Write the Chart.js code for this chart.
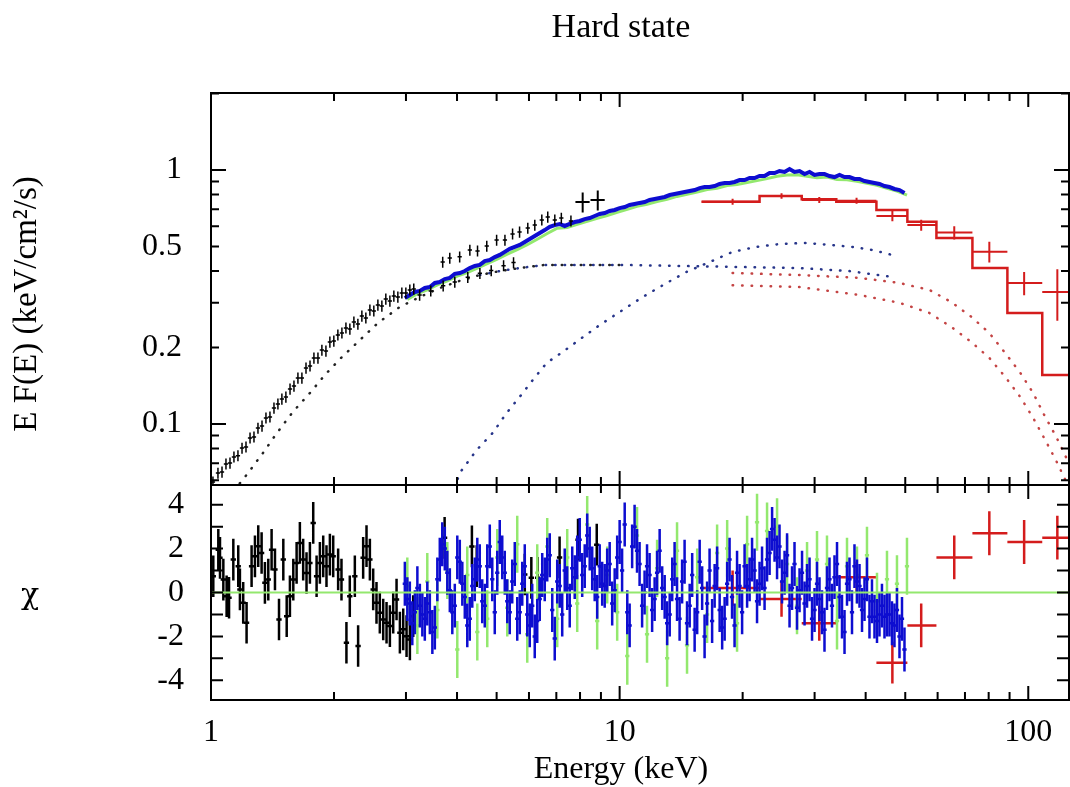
<!DOCTYPE html>
<html>
<head>
<meta charset="utf-8">
<script src="https://cdn.jsdelivr.net/npm/chart.js@4.4.1/dist/chart.umd.min.js"></script>
<style>
  html, body { margin: 0; padding: 0; background: #fff; }
  canvas { display: block; }
</style>
</head>
<body>
<canvas id="spec" width="1070" height="787"></canvas>
<script>
// labels
var chartTitle = 'Hard state';
var xTitle = 'Energy (keV)';
var yTitle = 'E F(E) (keV/cm\u00b2/s)';
var chiTitle = '\u03c7';

// axis ranges and ticks
var xMin = 1, xMax = 125.8;
var yMin = 0.0575, yMax = 2.01;
var chiMin = -4.9, chiMax = 4.9;
var xLabels = [1, 10, 100];
var xMajor = [1, 10, 100];
var xMinor = [2, 3, 4, 5, 6, 7, 8, 9, 20, 30, 40, 50, 60, 70, 80, 90];
var yLabels = [0.1, 0.2, 0.5, 1];
var yMajor = [0.1, 1];
var yMinor = [0.06, 0.07, 0.08, 0.09, 0.2, 0.3, 0.4, 0.5, 0.6, 0.7, 0.8, 0.9, 2];
var chiLabels = [-4, -2, 0, 2, 4];
var chiTicks = [-4, -3, -2, -1, 0, 1, 2, 3, 4];

// black data (low energy), spectrum
var blackE = [1.011,1.040,1.064,1.088,1.113,1.138,1.164,1.191,1.218,1.246,1.274,1.303,1.333,1.363,1.394,1.426,1.458,1.491,1.525,1.561,
  1.596,1.632,1.669,1.708,1.747,1.786,1.827,1.868,1.911,1.954,1.998,2.044,2.091,2.139,2.187,2.237,2.288,2.340,2.393,2.448,
  2.503,2.561,2.619,2.678,2.740,2.802,2.866,2.931,2.998,3.066,3.135,
  3.24,3.45,3.70,3.95,4.25,4.55,4.85,5.20,5.50,
  3.69,3.84,4.06,4.30,4.49,4.73,5.00,5.24,5.47,5.69,5.96,6.20,6.45,6.67,6.94,7.20,7.60];
var blackF = [0.0591,0.0641,0.0647,0.0696,0.0702,0.0742,0.0750,0.0804,0.0812,0.0881,0.0889,0.0964,0.0982,0.1056,0.1066,0.1156,0.1199,0.1254,0.1277,0.1373,
  0.1411,0.1517,0.1517,0.1661,0.1692,0.1819,0.1819,0.1955,0.1938,0.2103,0.2122,0.2241,0.2282,0.2388,0.2366,0.2521,0.2475,0.2662,0.2615,0.2811,
  0.2786,0.2941,0.2914,0.3105,0.3049,0.3191,0.3162,0.328,0.328,0.337,0.340,
  0.322,0.334,0.350,0.362,0.378,0.392,0.402,0.420,0.432,
  0.434,0.450,0.455,0.484,0.480,0.502,0.530,0.530,0.560,0.570,0.591,0.607,0.636,0.653,0.636,0.647,0.630];
var blackWideE = [8.12, 8.84];
var blackWideF = [0.748, 0.762];

// blue data, spectrum and residuals share the energy grid
var blueE = [2.981,3.066,3.154,3.244,3.336,3.432,3.530,3.630,3.734,3.841,
  3.950,4.063,4.179,4.298,4.421,4.547,4.677,4.811,4.948,5.089,
  5.235,5.384,5.538,5.696,5.859,6.026,6.198,6.375,6.557,6.745,
  6.937,7.135,7.339,7.549,7.764,7.986,8.214,8.448,8.689,8.937,
  9.193,9.455,9.725,10.00,10.29,10.58,10.88,11.19,11.51,11.84,
  12.18,12.53,12.89,13.26,13.63,14.02,14.42,14.84,15.26,15.70,
  16.14,16.60,17.08,17.57,18.07,18.58,19.11,19.66,20.22,20.80,
  21.39,22.00,22.63,23.28,23.94,24.62,25.33,26.05,26.79,27.56,
  28.35,29.16,29.99,30.84,31.72,32.63,33.56,34.52,35.51,36.52,
  37.56,38.64,39.74,40.87,42.04,43.24,44.48,45.75,47.05,48.40,
  49.78];
var blueF = [0.313,0.322,0.331,0.334,0.343,0.346,0.359,0.362,0.372,0.376,
  0.390,0.393,0.400,0.411,0.419,0.423,0.438,0.442,0.454,0.463,
  0.476,0.489,0.498,0.507,0.521,0.535,0.550,0.565,0.580,0.597,
  0.607,0.613,0.602,0.613,0.624,0.630,0.641,0.647,0.659,0.671,
  0.677,0.690,0.696,0.708,0.715,0.728,0.735,0.742,0.748,0.762,
  0.769,0.776,0.783,0.797,0.804,0.812,0.819,0.827,0.834,0.849,
  0.857,0.857,0.865,0.881,0.889,0.889,0.897,0.913,0.913,0.930,
  0.930,0.947,0.947,0.973,0.973,0.991,0.982,1.009,0.982,0.991,
  0.964,0.982,0.956,0.964,0.964,0.947,0.938,0.956,0.938,0.938,
  0.922,0.922,0.905,0.897,0.889,0.881,0.865,0.857,0.842,0.834,
  0.812];
var blueChi = [0.4,-0.5,-0.9,-0.6,-1.2,-0.9,-1.6,1.5,2.0,0.1,
  -0.6,1.4,-0.2,-1.2,0.6,1.2,-0.6,2.1,-0.9,2.3,
  0.9,-0.9,1.3,-0.9,1.2,-1.5,-2.0,-0.3,0.6,1.7,
  -2.1,0.3,1.0,-0.6,0.7,2.4,1.2,2.0,0.6,1.2,
  0.3,1.3,0.1,2.3,3.1,-1.5,3.0,1.3,0.0,0.8,
  -0.3,1.9,-0.2,-1.0,1.3,-1.2,1.4,-0.6,-1.7,1.4,
  -2.0,1.0,0.3,-0.8,-1.2,1.5,-1.5,0.3,1.2,0.6,
  1.0,0.4,0.2,1.8,2.4,2.1,0.9,-0.6,1.3,0.1,
  -0.5,0.6,-0.8,-0.3,-1.7,0.6,0.7,-0.2,-1.8,0.6,
  1.2,0.3,-0.3,-1.1,-1.1,-1.0,-1.1,-1.0,-1.5,-2.0,
  -2.6];
// interleaved blue residual bins
var blueE2 = [3.023,3.109,3.199,3.290,3.383,3.481,3.580,3.681,3.787,3.895,
  4.006,4.121,4.238,4.359,4.484,4.611,4.743,4.879,5.018,5.161,
  5.309,5.460,5.616,5.777,5.942,6.111,6.286,6.465,6.650,6.841,
  7.035,7.236,7.443,7.656,7.874,8.099,8.330,8.568,8.812,9.064,
  9.323,9.589,9.863,10.14,10.44,10.73,11.03,11.35,11.67,12.01,
  12.35,12.71,13.07,13.45,13.82,14.22,14.62,15.05,15.48,15.92,
  16.37,16.84,17.32,17.82,18.33,18.84,19.38,19.94,20.51,21.09,
  21.69,22.31,22.95,23.61,24.28,24.97,25.69,26.42,27.17,27.95,
  28.75,29.57,30.41,31.28,32.17,33.09,34.04,35.01,36.01,37.04,
  38.09,39.19,40.30,41.45,42.64,43.85,45.11,46.40,47.72,49.09];
var blueChi2 = [-0.3,-1.4,0.2,-1.0,-0.5,-1.8,0.6,2.2,0.9,-0.9,
  1.6,0.4,-1.5,0.3,1.5,-0.4,1.2,0.6,0.9,1.6,
  -0.4,0.5,-1.2,0.4,-1.0,-0.6,-1.3,0.8,1.5,-0.8,
  0.5,-1.0,0.2,1.1,1.6,0.8,2.6,1.1,-0.2,0.4,
  1.0,-0.5,1.6,1.0,-0.9,2.1,1.9,-0.6,1.2,-0.8,
  0.9,0.2,-1.4,0.6,-0.3,0.5,-1.4,0.8,-0.9,0.2,
  -0.5,-1.3,1.1,-1.6,0.4,-0.2,0.9,-0.9,0.3,1.5,
  -0.4,1.1,1.5,2.9,1.6,0.5,1.7,0.2,-0.7,0.9,
  0.3,-1.2,0.4,-0.9,0.2,-0.6,1.3,-1.1,0.4,-0.9,
  0.5,-0.8,0.6,-0.4,-1.3,-0.6,-1.0,-1.4,-0.8,-1.2];

// green data
var greenE = [3.023,3.199,3.383,3.580,3.787,4.006,4.238,4.484,4.743,5.018,
  5.309,5.616,5.942,6.286,6.650,7.035,7.443,7.874,8.330,8.812,
  9.323,9.863,10.44,11.03,11.67,12.35,13.07,13.82,14.62,15.48,
  16.37,17.32,18.33,19.38,20.51,21.69,22.95,24.28,25.69,27.17,
  28.75,30.41,32.17,34.04,36.01,38.09,40.30,42.64,45.11,47.72,
  50.49];
var greenF = [0.309,0.326,0.337,0.353,0.366,0.382,0.394,0.411,0.428,0.446,
  0.466,0.486,0.508,0.534,0.562,0.590,0.594,0.611,0.628,0.645,
  0.662,0.681,0.700,0.719,0.733,0.752,0.767,0.787,0.802,0.818,
  0.838,0.848,0.868,0.877,0.893,0.908,0.925,0.945,0.955,0.958,
  0.945,0.933,0.938,0.918,0.916,0.902,0.886,0.870,0.848,0.826,
  0.797];
var greenChi = [0.3,-1.5,0.5,-0.8,1.0,-2.6,0.8,-1.8,-1.2,1.6,
  -0.7,2.2,-1.9,0.9,2.1,-1.2,1.6,-0.5,3.1,-1.3,
  0.8,-0.9,-2.9,2.6,-1.9,1.1,-3.0,1.9,-2.4,0.7,
  -1.0,1.8,2.0,-1.4,2.2,3.2,2.8,3.0,1.3,-0.6,
  1.0,1.5,1.3,-1.3,1.2,0.8,1.7,-0.4,0.6,0.4,
  1.2];

// black residuals
var blackResE = [1.013,1.042,1.052,1.072,1.092,1.107,1.134,1.166,1.177,1.199,1.222,1.257,1.281,1.305,1.330,1.355,1.381,1.407,1.434,1.467,
  1.503,1.532,1.560,1.590,1.620,1.650,1.681,1.713,1.746,1.779,1.813,1.847,1.882,1.917,1.954,1.991,2.047,2.086,2.145,2.186,
  2.249,2.291,2.357,2.402,2.448,2.494,2.541,2.589,2.639,2.689,2.740,2.792,2.845,2.899,2.954,3.010,3.067,3.125,
  3.73,4.35,4.47,5.86,6.08,6.30,7.13,7.91,8.79];
var blackResChi = [0.74,1.95,1.58,0.59,-0.17,-0.24,1.50,1.20,0.14,-0.47,-1.38,1.20,1.65,2.11,1.80,0.44,0.59,1.95,1.05,-1.23,
  1.50,-1.08,-0.17,0.59,1.35,2.26,1.50,0.89,1.35,3.17,0.74,1.35,1.65,1.20,1.73,1.65,1.05,0.59,-2.29,-0.17,
  0.74,-2.44,1.58,2.11,1.50,0.14,-0.47,-0.92,-1.23,-1.38,-1.53,-0.92,-0.32,-1.83,-1.68,-1.99,-2.14,-1.08,
  2.49,2.10,1.20,0.82,0.67,0.67,1.60,2.41,2.18];

// red data (high energy bins)
var redBinLo = [15.87,22.0,27.9,33.9,42.5,50.6,59.6,73.0,88.9,108.2];
var redBinHi = [22.0,27.9,33.9,42.5,50.6,59.6,73.0,88.9,108.2,131.8];
var redE = [18.9,24.9,30.8,38.0,46.5,54.7,65.9,80.3,97.7,117.8];
var redF = [0.750,0.790,0.762,0.757,0.659,0.607,0.567,0.477,0.359,0.331];
var redFErr = [0.02,0.02,0.02,0.02,0.03,0.03,0.034,0.045,0.038,0.076];
var redModel = [0.750,0.790,0.767,0.750,0.696,0.626,0.540,0.411,0.2735,0.156];
var redChi = [0.2,-0.3,-1.4,0.7,-3.2,-1.5,1.6,2.7,2.3,2.5];
var redChiErr = [0.8,0.8,0.8,0.7,0.95,1.0,1.0,1.0,1.0,1.0];

// model components (dotted)
var compBlackE = [1.10,1.232,1.340,1.450,1.586,1.746,1.900,2.091,2.314,2.561,2.898,3.24,3.63,4.06,4.55,5.09,5.69,6.56,7.98,10.0];
var compBlackF = [0.051,0.0641,0.0769,0.0922,0.1115,0.1324,0.156,0.1835,0.214,0.2497,0.289,0.316,0.343,0.366,0.386,0.400,0.411,0.423,0.423,0.423];
var compFlatE = [4.55,5.09,5.69,6.56,7.98,10.0,14.0,19.7,27.5,36.5,46.5];
var compFlatF = [0.386,0.400,0.411,0.423,0.423,0.423,0.419,0.415,0.411,0.400,0.379];
var compHumpE = [3.95,4.06,4.47,4.89,5.29,5.69,6.13,6.63,7.25,7.98,8.93,10.0,11.38,13.03,14.58,16.6,18.9,21.6,24.9,28.7,32.6,37.1,41.6,46.5];
var compHumpF = [0.056,0.0641,0.0790,0.0922,0.1105,0.1277,0.149,0.174,0.192,0.215,0.245,0.276,0.316,0.359,0.397,0.434,0.476,0.498,0.512,0.516,0.507,0.498,0.484,0.463];
var redCompAE = [18.9,27.5,38.6,48.4,57.3,64.8,72.6,80.3,87.9,95.6,102.8,109.4,117.1,124.6,130];
var redCompAF = [0.393,0.386,0.376,0.359,0.337,0.302,0.264,0.228,0.190,0.159,0.1324,0.1085,0.0889,0.0722,0.060];
var redCompBE = [18.9,27.5,38.6,48.4,57.3,64.8,72.6,80.3,87.9,95.6,102.8,110.0,117.1,124.6];
var redCompBF = [0.352,0.346,0.322,0.300,0.2735,0.241,0.210,0.182,0.153,0.1277,0.1056,0.0865,0.0715,0.058];

var zeroE = [1, 125.8];
var zeroChi = [0, 0];

var BLACK = '#000000', BLUE = '#0d0dd0', GREEN = '#93e86e', RED = '#d41c1c';
var FONT = "'Liberation Serif', 'Times New Roman', serif";

function pts(xs, ys) {
    return xs.map(function (v, i) { return { x: v, y: ys[i] }; });
}

function scaled(list, f) {
    return list.map(function (v) { return v * f; });
}

function shifted(list, d) {
    return list.map(function (v, i) { return v + (Array.isArray(d) ? d[i] : d); });
}

function errSet(xs, ys, xlo, xhi, ylo, yhi, color, width, order, axis) {
    return {
        data: pts(xs, ys),
        xLo: xlo, xHi: xhi, yLo: ylo, yHi: yhi,
        borderColor: color, errWidth: width,
        showLine: false, pointRadius: 0, order: order, yAxisID: axis
    };
}

function lineSet(xs, ys, color, width, order, axis, dash) {
    return {
        data: pts(xs, ys),
        borderColor: color, borderWidth: width,
        borderDash: dash || [], borderCapStyle: dash ? 'round' : 'butt',
        pointRadius: 0, tension: 0, fill: false, order: order, yAxisID: axis
    };
}

var DOTS = [0.5, 9];

// step line for the red model: one point per bin start plus the last bin end
var redStepE = redBinLo.concat([redBinHi[redBinHi.length - 1]]);
var redStepF = redModel.concat([redModel[redModel.length - 1]]);

var datasets = [
    // top panel
    lineSet(compBlackE, compBlackF, '#222222', 2.5, 30, 'y', DOTS),
    lineSet(compFlatE, compFlatF, '#27358a', 2.5, 29, 'y', DOTS),
    lineSet(compHumpE, compHumpF, '#27358a', 2.5, 28, 'y', DOTS),
    lineSet(redCompAE, redCompAF, '#c44444', 2.5, 27, 'y', DOTS),
    lineSet(redCompBE, redCompBF, '#c44444', 2.5, 26, 'y', DOTS),
    lineSet(greenE, greenF, GREEN, 3, 25, 'y'),
    lineSet(blueE, blueF, BLUE, 4, 24, 'y'),
    errSet(blackE, blackF, scaled(blackE, 0.988), scaled(blackE, 1.012),
        scaled(blackF, 0.95), scaled(blackF, 1.05), BLACK, 1.5, 23, 'y'),
    errSet(blackWideE, blackWideF, scaled(blackWideE, 0.96), scaled(blackWideE, 1.04),
        scaled(blackWideF, 0.91), scaled(blackWideF, 1.09), BLACK, 2, 22, 'y'),
    Object.assign(lineSet(redStepE, redStepF, RED, 2.5, 21, 'y'), { stepped: 'before' }),
    errSet(redE, redF, redBinLo, redBinHi,
        shifted(redF, redFErr.map(function (v) { return -v; })), shifted(redF, redFErr), RED, 2, 20, 'y'),

    // residual panel
    errSet(blackResE, blackResChi, scaled(blackResE, 0.985), scaled(blackResE, 1.015),
        shifted(blackResChi, -0.95), shifted(blackResChi, 0.95), BLACK, 2.5, 16, 'y2'),
    errSet(redE, redChi, redBinLo, redBinHi,
        shifted(redChi, redChiErr.map(function (v) { return -v; })), shifted(redChi, redChiErr), RED, 2.5, 15, 'y2'),
    errSet(greenE, greenChi, scaled(greenE, 0.988), scaled(greenE, 1.012),
        shifted(greenChi, -1.3), shifted(greenChi, 1.3), GREEN, 2.5, 14, 'y2'),
    errSet(blueE, blueChi, scaled(blueE, 0.988), scaled(blueE, 1.012),
        shifted(blueChi, -1.0), shifted(blueChi, 1.0), BLUE, 2.5, 13, 'y2'),
    errSet(blueE2, blueChi2, scaled(blueE2, 0.988), scaled(blueE2, 1.012),
        shifted(blueChi2, -1.0), shifted(blueChi2, 1.0), BLUE, 2.5, 12, 'y2'),
    lineSet(zeroE, zeroChi, GREEN, 2, 11, 'y2')
];

// error bars, drawn right after their own dataset so the layering holds
var errorBars = {
    id: 'errorBars',
    afterDatasetDraw: function (chart, args) {
        var ds = chart.data.datasets[args.index];
        if (!ds.yLo) return;
        var xs = args.meta.xScale, ys = args.meta.yScale, ctx = chart.ctx;
        ctx.save();
        ctx.beginPath();
        ctx.rect(xs.left, ys.top, xs.right - xs.left, ys.bottom - ys.top);
        ctx.clip();
        ctx.strokeStyle = ds.borderColor;
        ctx.lineWidth = ds.errWidth;
        ctx.beginPath();
        ds.data.forEach(function (p, i) {
            var px = xs.getPixelForValue(p.x), py = ys.getPixelForValue(p.y);
            ctx.moveTo(xs.getPixelForValue(ds.xLo[i]), py);
            ctx.lineTo(xs.getPixelForValue(ds.xHi[i]), py);
            ctx.moveTo(px, ys.getPixelForValue(ds.yLo[i]));
            ctx.lineTo(px, ys.getPixelForValue(ds.yHi[i]));
        });
        ctx.stroke();
        ctx.restore();
    }
};

// frame boxes with inward ticks on all four sides, plus the free-standing texts
var frameTicks = {
    id: 'frameTicks',
    afterDatasetsDraw: function (chart) {
        var ctx = chart.ctx, x = chart.scales.x;
        var panels = [
            { s: chart.scales.y, major: yMajor, minor: yMinor, majLen: 15, minLen: 8 },
            { s: chart.scales.y2, major: chiTicks, minor: [], majLen: 12, minLen: 0 }
        ];
        ctx.save();
        ctx.strokeStyle = '#000';
        ctx.lineWidth = 2;
        ctx.beginPath();
        panels.forEach(function (p) {
            var t = p.s.top, b = p.s.bottom;
            ctx.rect(x.left, t, x.right - x.left, b - t);
            function xt(v, len) {
                if (v < xMin || v > xMax) return;
                var px = x.getPixelForValue(v);
                ctx.moveTo(px, t); ctx.lineTo(px, t + len);
                ctx.moveTo(px, b); ctx.lineTo(px, b - len);
            }
            function yt(v, len) {
                var py = p.s.getPixelForValue(v);
                if (py < t || py > b) return;
                ctx.moveTo(x.left, py); ctx.lineTo(x.left + len, py);
                ctx.moveTo(x.right, py); ctx.lineTo(x.right - len, py);
            }
            xMajor.forEach(function (v) { xt(v, 14); });
            xMinor.forEach(function (v) { xt(v, 8); });
            p.major.forEach(function (v) { yt(v, p.majLen); });
            p.minor.forEach(function (v) { yt(v, p.minLen); });
        });
        ctx.stroke();
        ctx.restore();
    },
    afterDraw: function (chart) {
        var ctx = chart.ctx, y2 = chart.scales.y2;
        ctx.save();
        ctx.fillStyle = '#000';
        ctx.textAlign = 'center';
        ctx.textBaseline = 'alphabetic';
        ctx.font = '34px ' + FONT;
        ctx.fillText(chartTitle, 621, 37);
        ctx.font = '32px ' + FONT;
        ctx.fillText(xTitle, 621, 778);
        ctx.textBaseline = 'middle';
        ctx.font = "30px 'DejaVu Serif', serif";
        ctx.fillText(chiTitle, 30, (y2.top + y2.bottom) / 2 + 4);
        ctx.save();
        ctx.translate(27, 304);
        ctx.rotate(-Math.PI / 2);
        ctx.font = '33px ' + FONT;
        ctx.fillText(yTitle, 0, 0);
        ctx.restore();
        ctx.restore();
    }
};

function fixTicks(list) {
    return function (scale) {
        scale.ticks = list.map(function (v) { return { value: v }; });
    };
}

var tickFont = { family: FONT, size: 32 };

new Chart(document.getElementById('spec'), {
    type: 'line',
    data: { datasets: datasets },
    options: {
        responsive: false,
        animation: false,
        devicePixelRatio: 1,
        layout: { padding: { top: 93, right: 1, left: 0, bottom: 0 } },
        plugins: {
            legend: { display: false },
            tooltip: { enabled: false },
            title: { display: false }
        },
        scales: {
            x: {
                type: 'logarithmic', min: xMin, max: xMax, bounds: 'data',
                grid: { display: false, drawTicks: false }, border: { display: false },
                afterBuildTicks: fixTicks(xLabels),
                afterFit: function (s) { s.height = 87; },
                ticks: {
                    autoSkip: false, maxRotation: 0, padding: 13, color: '#000', font: tickFont,
                    callback: function (v) { return String(v); }
                }
            },
            y: {
                type: 'logarithmic', position: 'left', min: yMin, max: yMax, bounds: 'data',
                stack: 'panels', stackWeight: 392, weight: 2,
                grid: { display: false, drawTicks: false }, border: { display: false },
                afterBuildTicks: fixTicks(yLabels),
                afterFit: function (s) { s.width = 211; },
                ticks: {
                    autoSkip: false, padding: 29, color: '#000', font: tickFont,
                    callback: function (v) { return String(v); }
                }
            },
            y2: {
                type: 'linear', position: 'left', min: chiMin, max: chiMax, bounds: 'data',
                stack: 'panels', stackWeight: 215, weight: 1,
                grid: { display: false, drawTicks: false }, border: { display: false },
                afterBuildTicks: fixTicks(chiLabels),
                afterFit: function (s) { s.width = 211; },
                ticks: {
                    autoSkip: false, padding: 27, color: '#000', font: tickFont,
                    callback: function (v) { return String(v); }
                }
            }
        }
    },
    plugins: [errorBars, frameTicks]
});
</script>
</body>
</html>
